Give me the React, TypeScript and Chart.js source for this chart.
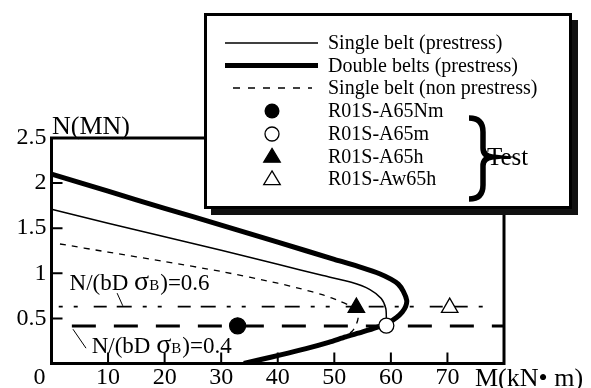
import { useEffect, useRef } from 'react';
import { Chart, registerables } from 'chart.js';

Chart.register(...registerables);

const SERIF = "'Liberation Serif', 'Times New Roman', serif";

// Axis ticks
const xTickValues = [0, 10, 20, 30, 40, 50, 60, 70, 80];
const yTickValues = [0.5, 1, 1.5, 2, 2.5];

// Double belts (prestress) – thick curve
const doubleM = [0, 10, 20, 30, 40, 50, 55, 58, 60, 61.3, 62.2, 62.8, 62.6, 62.0, 61.0, 59.5, 57.5, 55, 52, 49, 45, 40.5, 37, 34];
const doubleN = [2.1, 1.91, 1.72, 1.535, 1.345, 1.155, 1.06, 0.995, 0.935, 0.88, 0.8, 0.7, 0.63, 0.57, 0.51, 0.45, 0.4, 0.35, 0.295, 0.235, 0.165, 0.095, 0.045, 0];

// Single belt (prestress) – thin curve
const singleM = [0, 10, 20, 30, 40, 48, 53, 56.3, 58.3, 59.1, 59.2, 59.2];
const singleN = [1.71, 1.555, 1.405, 1.255, 1.1, 0.975, 0.9, 0.82, 0.72, 0.61, 0.5, 0.45];

// Single belt (non prestress) – dashed curve
const nonM = [1.5, 10, 20, 30, 40, 44, 48, 51, 53, 54, 54.2, 53.8, 53.2, 52.2];
const nonN = [1.325, 1.235, 1.13, 1.02, 0.89, 0.83, 0.76, 0.69, 0.63, 0.56, 0.5, 0.42, 0.36, 0.31];

// Axial force ratio lines
const ratio06M = [1.1, 77.2];
const ratio06N = [0.63, 0.63];
const ratio04M = [3.6, 80];
const ratio04N = [0.415, 0.415];

// Test results
const testNames = ['R01S-A65Nm', 'R01S-A65m', 'R01S-A65h', 'R01S-Aw65h'];
const testM = [32.9, 59.2, 53.9, 70.4];
const testN = [0.418, 0.42, 0.62, 0.62];

const seriesNames = ['Single belt (prestress)', 'Double belts (prestress)', 'Single belt (non prestress)'];

const pts = (xs: number[], ys: number[]) => xs.map((x, i) => ({ x, y: ys[i] }));

function drawRatioLabel(ctx: CanvasRenderingContext2D, x: number, y: number, value: string) {
  ctx.save();
  ctx.fillStyle = '#000';
  ctx.textBaseline = 'alphabetic';
  ctx.textAlign = 'left';
  ctx.font = `23px ${SERIF}`;
  const p1 = 'N/(bD ';
  ctx.fillText(p1, x, y);
  let cx = x + ctx.measureText(p1).width;
  ctx.font = `28px ${SERIF}`;
  ctx.fillText('σ', cx, y);
  cx += ctx.measureText('σ').width;
  ctx.font = `15px ${SERIF}`;
  ctx.fillText('B', cx, y);
  cx += ctx.measureText('B').width + 1;
  ctx.font = `23px ${SERIF}`;
  ctx.fillText(')=' + value, cx, y);
  ctx.restore();
}

const decorPlugin = {
  id: 'decor',
  afterDatasetsDraw(chart: any) {
    const { ctx, chartArea } = chart;
    const xs = chart.scales.x;
    const ys = chart.scales.y;
    ctx.save();
    ctx.strokeStyle = '#000';
    // inward ticks
    ctx.lineWidth = 2;
    ctx.beginPath();
    for (const v of yTickValues) {
      if (v >= 2.5) continue;
      const py = ys.getPixelForValue(v);
      ctx.moveTo(chartArea.left, py);
      ctx.lineTo(chartArea.left + 11, py);
    }
    for (const v of xTickValues) {
      if (v === 0 || v === 80) continue;
      const px = xs.getPixelForValue(v);
      ctx.moveTo(px, chartArea.bottom);
      ctx.lineTo(px, chartArea.bottom - 11);
    }
    ctx.stroke();
    // frame
    ctx.lineWidth = 3;
    ctx.strokeRect(chartArea.left, chartArea.top, chartArea.right - chartArea.left, chartArea.bottom - chartArea.top);

    // ratio labels with leader lines
    ctx.lineWidth = 1;
    ctx.beginPath();
    ctx.moveTo(xs.getPixelForValue(11.6), ys.getPixelForValue(0.78));
    ctx.lineTo(xs.getPixelForValue(12.6), ys.getPixelForValue(0.64));
    ctx.moveTo(xs.getPixelForValue(3.8), ys.getPixelForValue(0.38));
    ctx.lineTo(xs.getPixelForValue(6.1), ys.getPixelForValue(0.17));
    ctx.stroke();
    drawRatioLabel(ctx, xs.getPixelForValue(3.2), ys.getPixelForValue(0.815), '0.6');
    drawRatioLabel(ctx, xs.getPixelForValue(7.1), ys.getPixelForValue(0.113), '0.4');
    ctx.restore();
  },
  afterDraw(chart: any) {
    const { ctx } = chart;
    ctx.save();
    ctx.fillStyle = '#000';
    // axis titles
    ctx.font = `26px ${SERIF}`;
    ctx.textAlign = 'left';
    ctx.textBaseline = 'alphabetic';
    ctx.fillText('N(MN)', 52, 134);
    ctx.fillText('M(kN• m)', 475, 386);

    // legend box with shadow
    ctx.fillStyle = '#111';
    ctx.fillRect(211, 20, 367, 195);
    ctx.fillStyle = '#fff';
    ctx.fillRect(205.5, 14.5, 365, 193);
    ctx.strokeStyle = '#000';
    ctx.lineWidth = 3;
    ctx.strokeRect(205.5, 14.5, 365, 193);

    const rows = [43, 65.5, 88, 111, 134, 156.5, 179];
    // line samples
    ctx.lineWidth = 1.6;
    ctx.beginPath();
    ctx.moveTo(225, rows[0]);
    ctx.lineTo(318, rows[0]);
    ctx.stroke();
    ctx.lineWidth = 5;
    ctx.beginPath();
    ctx.moveTo(225, rows[1]);
    ctx.lineTo(318, rows[1]);
    ctx.stroke();
    ctx.lineWidth = 1.4;
    ctx.setLineDash([7, 8]);
    ctx.beginPath();
    ctx.moveTo(233, rows[2]);
    ctx.lineTo(312, rows[2]);
    ctx.stroke();
    ctx.setLineDash([]);

    // markers
    const mx = 272;
    ctx.lineWidth = 1.3;
    ctx.fillStyle = '#000';
    ctx.beginPath();
    ctx.arc(mx, rows[3], 7.5, 0, Math.PI * 2);
    ctx.fill();
    ctx.beginPath();
    ctx.arc(mx, rows[4], 7, 0, Math.PI * 2);
    ctx.fillStyle = '#fff';
    ctx.fill();
    ctx.stroke();
    const tri = (cy: number, fill: string) => {
      const r = 9.5;
      ctx.beginPath();
      ctx.moveTo(mx, cy - r * 0.85);
      ctx.lineTo(mx + r * 0.87, cy + r * 0.6);
      ctx.lineTo(mx - r * 0.87, cy + r * 0.6);
      ctx.closePath();
      ctx.fillStyle = fill;
      ctx.fill();
      ctx.stroke();
    };
    tri(rows[5], '#000');
    tri(rows[6], '#fff');

    // legend texts
    ctx.fillStyle = '#000';
    ctx.font = `20px ${SERIF}`;
    ctx.textBaseline = 'middle';
    const labels = [...seriesNames, ...testNames];
    labels.forEach((t, i) => ctx.fillText(t, 328, rows[i] + 1));

    // brace
    ctx.lineWidth = 5.5;
    ctx.lineCap = 'butt';
    ctx.beginPath();
    ctx.moveTo(469, 118);
    ctx.quadraticCurveTo(483, 118, 483, 132);
    ctx.lineTo(483, 148);
    ctx.quadraticCurveTo(483, 156, 492, 157);
    ctx.quadraticCurveTo(483, 158, 483, 166);
    ctx.lineTo(483, 185);
    ctx.quadraticCurveTo(483, 199, 469, 199);
    ctx.stroke();
    ctx.font = `25px ${SERIF}`;
    ctx.fillText('Test', 487, 158);
    ctx.restore();
  },
};

export default function App() {
  const ref = useRef<HTMLCanvasElement | null>(null);
  useEffect(() => {
    document.body.style.margin = '0';
    if (!ref.current) return;
    const line = (data: any, width: number, dash: number[], order: number, extra: any = {}) => ({
      data,
      showLine: true,
      borderColor: '#000',
      borderWidth: width,
      borderDash: dash,
      pointRadius: 0,
      fill: false,
      order,
      ...extra,
    });
    const marker = (i: number, style: string, bg: string, r: number) => ({
      label: testNames[i],
      data: [{ x: testM[i], y: testN[i] }],
      showLine: false,
      pointStyle: style,
      pointRadius: r,
      pointBackgroundColor: bg,
      pointBorderColor: '#000',
      pointBorderWidth: 1.3,
      order: 0,
    });
    const chart = new Chart(ref.current, {
      type: 'scatter',
      data: {
        datasets: [
          marker(0, 'circle', '#000', 8),
          marker(1, 'circle', '#fff', 7.5),
          marker(2, 'triangle', '#000', 9.5),
          marker(3, 'triangle', '#fff', 9.5),
          line(pts(doubleM, doubleN), 5, [], 3, { label: seriesNames[1], tension: 0.25 }),
          line(pts(singleM, singleN), 1.5, [], 4, { label: seriesNames[0], tension: 0.25 }),
          line(pts(nonM, nonN), 1.3, [6, 6], 5, { label: seriesNames[2], tension: 0.25 }),
          line(pts(ratio06M, ratio06N), 1.6, [13, 10, 15, 11, 4, 11, 4, 16], 6, { label: '0.6', borderDashOffset: 48 }),
          line(pts(ratio04M, ratio04N), 3, [24, 18], 7, { label: '0.4' }),
        ],
      },
      options: {
        responsive: false,
        animation: false,
        devicePixelRatio: 1,
        layout: { padding: { top: 138, right: 87, left: 0, bottom: 0 } },
        plugins: { legend: { display: false }, tooltip: { enabled: false } },
        scales: {
          x: {
            type: 'linear',
            min: 0,
            max: 80,
            afterFit: (s: any) => { s.height = 24.5; },
            afterBuildTicks: (s: any) => { s.ticks = xTickValues.map((v) => ({ value: v })); },
            grid: { display: false, drawTicks: false },
            border: { display: false },
            ticks: {
              padding: 0,
              maxRotation: 0,
              autoSkip: false,
              color: '#000',
              font: { family: SERIF, size: 24 },
              callback: (v: any) => (v === 0 ? '0    ' : v === 80 ? '' : String(v)),
            },
          },
          y: {
            type: 'linear',
            min: 0,
            max: 2.5,
            afterFit: (s: any) => { s.width = 51.5; },
            afterBuildTicks: (s: any) => { s.ticks = yTickValues.map((v) => ({ value: v })); },
            grid: { display: false, drawTicks: false },
            border: { display: false },
            ticks: {
              padding: 5,
              autoSkip: false,
              color: '#000',
              font: { family: SERIF, size: 24 },
              callback: (v: any) => String(v),
            },
          },
        },
      },
      plugins: [decorPlugin],
    });
    return () => chart.destroy();
  }, []);
  return (
    <div style={{ width: 591, height: 388, background: '#fff' }}>
      <canvas ref={ref} width={591} height={388} />
    </div>
  );
}
